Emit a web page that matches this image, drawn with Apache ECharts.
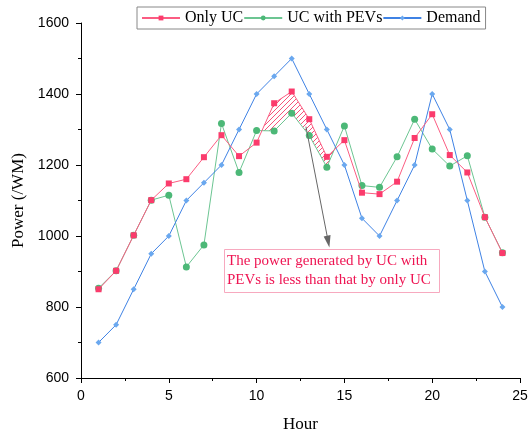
<!DOCTYPE html>
<html>
<head>
<meta charset="utf-8">
<script src="https://cdn.jsdelivr.net/npm/echarts@6/dist/echarts.min.js"></script>
<style>
  html, body { margin: 0; padding: 0; background: #fff; }
  #main { width: 530px; height: 435px; }
</style>
</head>
<body>
<div id="main"></div>
<script>
  // hours 1..24
  var hours = [1, 2, 3, 4, 5, 6, 7, 8, 9, 10, 11, 12, 13, 14, 15, 16, 17, 18, 19, 20, 21, 22, 23, 24]
  var onlyUC = [850, 902, 1002, 1101, 1148, 1160, 1222, 1284, 1225, 1263, 1374, 1407, 1329, 1223,
    1270, 1122, 1118, 1153, 1276, 1343, 1228, 1179, 1053, 952]
  var ucPEVs = [853, 902, 1002, 1101, 1115, 913, 975, 1317, 1179, 1297, 1296, 1346, 1283, 1194,
    1310, 1142, 1137, 1223, 1329, 1245, 1197, 1226, 1053, 953]
  var demand = [700, 750, 850, 950, 1000, 1100, 1150, 1200, 1300, 1400, 1450, 1500, 1400, 1300,
    1200, 1050, 1000, 1100, 1200, 1400, 1300, 1100, 900, 800]
  var yTicks = [600, 800, 1000, 1200, 1400, 1600]
  var xTicks = [0, 5, 10, 15, 20, 25]
  // hatched region lies between hour 10 and hour 15
  var hatchFrom = 9, hatchTo = 14

  function pairs (ys) {
    return hours.map(function (h, i) { return [h, ys[i]] })
  }

  // crossing of the two generation lines inside segment i..i+1
  function crossing (i) {
    var d0 = onlyUC[i] - ucPEVs[i]
    var d1 = onlyUC[i + 1] - ucPEVs[i + 1]
    var t = d0 / (d0 - d1)
    return [hours[i] + t, ucPEVs[i] + t * (ucPEVs[i + 1] - ucPEVs[i])]
  }

  // hatch pattern
  var pat = document.createElement('canvas')
  pat.width = 5
  pat.height = 5
  var pc = pat.getContext('2d')
  pc.strokeStyle = '#f4406a'
  pc.lineWidth = 0.9
  pc.beginPath()
  pc.moveTo(0, 5); pc.lineTo(5, 0)
  pc.moveTo(-1, 1); pc.lineTo(1, -1)
  pc.moveTo(4, 6); pc.lineTo(6, 4)
  pc.stroke()

  var serif = '"Liberation Serif", "Times New Roman", serif'
  var sans = '"Liberation Sans", Arial, sans-serif'

  var chart = echarts.init(document.getElementById('main'))
  chart.setOption({
    animation: false,
    legend: {
      top: 7,
      left: 137,
      itemGap: 0,
      itemWidth: 38,
      itemHeight: 6,
      padding: [3, 5, 3, 4],
      borderColor: '#888',
      borderWidth: 1,
      textStyle: { fontFamily: serif, fontSize: 16, color: '#000' },
      data: ['Only UC', 'UC with PEVs', 'Demand']
    },
    grid: { left: 81, right: 10, top: 23, bottom: 57, outerBoundsMode: 'none' },
    xAxis: {
      type: 'value',
      min: xTicks[0],
      max: xTicks[xTicks.length - 1],
      interval: 5,
      name: 'Hour',
      nameLocation: 'middle',
      nameGap: 38,
      nameTextStyle: { fontFamily: serif, fontSize: 17, color: '#000' },
      axisLine: { lineStyle: { color: '#000', width: 1 } },
      axisTick: { length: 5, lineStyle: { color: '#000' } },
      minorTick: { show: true, splitNumber: 2, length: 3, lineStyle: { color: '#000' } },
      axisLabel: { fontFamily: sans, fontSize: 14, color: '#000', margin: 11 },
      splitLine: { show: false }
    },
    yAxis: {
      type: 'value',
      min: yTicks[0],
      max: yTicks[yTicks.length - 1],
      interval: 200,
      name: 'Power (/WM)',
      nameLocation: 'middle',
      nameGap: 36,
      nameTextStyle: { fontFamily: serif, fontSize: 17, color: '#000' },
      axisLine: { show: true, lineStyle: { color: '#000', width: 1 } },
      axisTick: { show: true, length: 5, lineStyle: { color: '#000' } },
      minorTick: { show: true, splitNumber: 2, length: 3, lineStyle: { color: '#000' } },
      axisLabel: { fontFamily: sans, fontSize: 14, color: '#000', margin: 12, formatter: function (v) { return String(v) } },
      splitLine: { show: false }
    },
    series: [
      {
        type: 'custom',
        silent: true,
        z: 1,
        data: [[0, 0]],
        renderItem: function (params, api) {
          var pts = []
          pts.push(api.coord(crossing(hatchFrom)))
          for (var i = hatchFrom + 1; i <= hatchTo - 1; i++) pts.push(api.coord([hours[i], onlyUC[i]]))
          pts.push(api.coord(crossing(hatchTo - 1)))
          for (var j = hatchTo - 1; j >= hatchFrom + 1; j--) pts.push(api.coord([hours[j], ucPEVs[j]]))
          return {
            type: 'polygon',
            shape: { points: pts },
            style: { fill: { image: pat, repeat: 'repeat' }, stroke: 'none' }
          }
        }
      },
      {
        name: 'Only UC',
        type: 'line',
        z: 3,
        data: pairs(onlyUC),
        symbol: 'rect',
        symbolSize: 6,
        color: '#fb3b6c',
        lineStyle: { width: 1, color: '#fb5c82' }
      },
      {
        name: 'UC with PEVs',
        type: 'line',
        z: 2,
        data: pairs(ucPEVs),
        symbol: 'circle',
        symbolSize: 7,
        color: '#4cb877',
        lineStyle: { width: 1, color: '#6cc592' }
      },
      {
        name: 'Demand',
        type: 'line',
        z: 2,
        data: pairs(demand),
        symbol: 'diamond',
        symbolSize: 6,
        color: '#6aa8ef',
        lineStyle: { width: 1, color: '#3f82e4' },
        markLine: {
          silent: true,
          symbol: ['none', 'triangle'],
          symbolSize: [7, 12],
          lineStyle: { color: '#666', width: 1, type: 'solid' },
          label: { show: false },
          data: [[{ coord: [12.81, 1308] }, { coord: [14.08, 984] }]]
        }
      }
    ],
    graphic: [
      {
        type: 'rect',
        shape: { x: 224.5, y: 249.5, width: 215, height: 43 },
        style: { fill: '#fff', stroke: '#f7a9bf', lineWidth: 1 },
        z: 10
      },
      {
        type: 'text',
        x: 227,
        y: 252,
        z: 11,
        style: {
          text: 'The power generated by UC with\nPEVs is less than that by only UC',
          font: '15px ' + serif,
          fill: '#ee1452',
          lineHeight: 19
        }
      }
    ]
  })
</script>
</body>
</html>
